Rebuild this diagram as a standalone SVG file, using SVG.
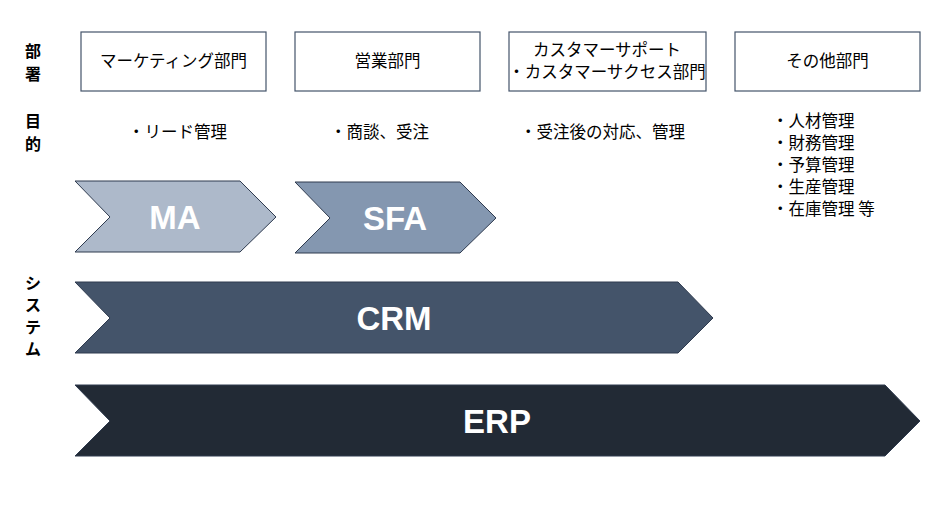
<svg xmlns="http://www.w3.org/2000/svg" width="950" height="512" viewBox="0 0 950 512">
<style>
text{font-family:"Noto Sans CJK JP","Liberation Sans",sans-serif;fill:#000}
.t{font-size:16.5px}
.h{font-size:16px;font-weight:bold}
.box{fill:#fff;stroke:#44546a;stroke-width:1.2}
.c{font-family:"Liberation Sans",sans-serif;font-weight:bold;font-size:33px;fill:#fff}
.ch{stroke:#2f3b4f;stroke-width:1}
</style>
<rect width="950" height="512" fill="#fff"/>
<g id="labels">
<text class="h" x="25" y="57">部</text><text class="h" x="25" y="80">署</text>
<text class="h" x="25" y="127">目</text><text class="h" x="25" y="150">的</text>
<text class="h" x="25" y="289">シ</text><text class="h" x="25" y="311">ス</text><text class="h" x="25" y="333">テ</text><text class="h" x="25" y="355">ム</text>
</g>
<g id="dept1"><rect class="box" x="81" y="32" width="185" height="59"/><text class="t" x="173.5" y="67" text-anchor="middle">マーケティング部門</text></g>
<g id="dept2"><rect class="box" x="295" y="32" width="185" height="59"/><text class="t" x="387.5" y="67" text-anchor="middle">営業部門</text></g>
<g id="dept3"><rect class="box" x="509" y="32" width="197" height="59"/><text class="t" x="607" y="56" text-anchor="middle">カスタマーサポート</text><text class="t" x="607" y="78" text-anchor="middle">・カスタマーサクセス部門</text></g>
<g id="dept4"><rect class="box" x="735" y="32" width="185" height="59"/><text class="t" x="827.5" y="67" text-anchor="middle">その他部門</text></g>
<g id="purposes">
<text class="t" x="128" y="138">・リード管理</text>
<text class="t" x="330" y="138">・商談、受注</text>
<text class="t" x="520" y="138">・受注後の対応、管理</text>
<text class="t" x="772" y="127">・人材管理</text>
<text class="t" x="772" y="149">・財務管理</text>
<text class="t" x="772" y="171">・予算管理</text>
<text class="t" x="772" y="193">・生産管理</text>
<text class="t" x="772" y="215">・在庫管理 等</text>
</g>
<g id="MA"><polygon class="ch" points="75,181 240,181 276,217 240,252 75,252 110,217" fill="#adb9ca"/><text class="c" x="175" y="229" text-anchor="middle">MA</text></g>
<g id="SFA"><polygon class="ch" points="295,182 460,182 496,218 460,253 295,253 330,218" fill="#8497b0"/><text class="c" x="395" y="230" text-anchor="middle">SFA</text></g>
<g id="CRM"><polygon class="ch" points="75,282 678,282 713,318 678,353 75,353 110,318" fill="#44546a"/><text class="c" x="394" y="330" text-anchor="middle">CRM</text></g>
<g id="ERP"><polygon class="ch" points="75,385 885,385 920,421 885,456 75,456 110,421" fill="#222a35"/><text class="c" x="497" y="433" text-anchor="middle">ERP</text></g>
<g id="connectors"/>
</svg>
